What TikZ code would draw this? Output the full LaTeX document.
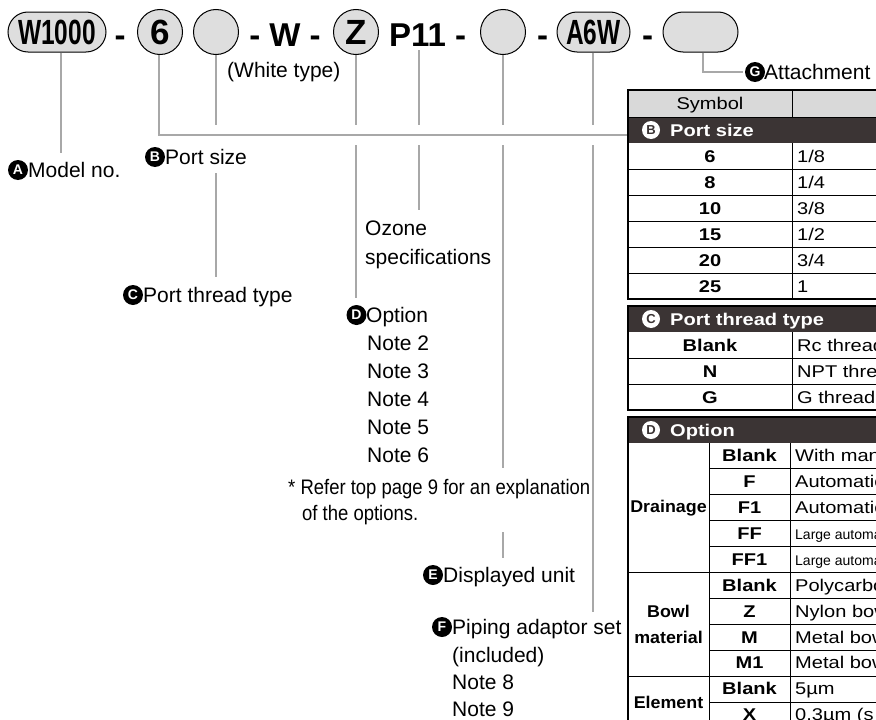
\documentclass[tikz,border=0pt]{standalone}
\usepackage{fontspec}
\setmainfont{Liberation Sans}
\newfontfamily\condfont[FakeStretch=0.7]{Liberation Sans}
\newfontfamily\tblfont[FakeStretch=1.18]{Liberation Sans}
\newfontfamily\catfont[FakeStretch=1.05]{Liberation Sans}
\newfontfamily\narrowfont[FakeStretch=0.88]{Liberation Sans}
\definecolor{connc}{HTML}{A8A8A8}
\definecolor{pillfill}{HTML}{DEDEDE}
\definecolor{hdr}{HTML}{3B3434}
\definecolor{symhdr}{HTML}{D9D9D9}
\begin{document}
\begin{tikzpicture}[x=1pt,y=-1pt,
  pill/.style={draw=black, line width=1pt, fill=pillfill, rounded corners=20pt, inner sep=0pt, minimum height=40pt},
  circ/.style={circle, draw=black, line width=1pt, fill=pillfill, minimum size=45pt, inner sep=0pt},
  topbig/.style={font=\bfseries\fontsize{33}{33}\selectfont, inner sep=0pt},
  lab/.style={font=\fontsize{21}{25}\selectfont, anchor=base west, inner sep=0pt},
  notelab/.style={font=\narrowfont\fontsize{21}{25}\selectfont, anchor=base west, inner sep=0pt},
  bc/.style={circle, fill=black, text=white, inner sep=0pt, minimum size=20pt, font=\bfseries\fontsize{14}{14}\selectfont},
  wc/.style={circle, fill=white, text=hdr, inner sep=0pt, minimum size=18pt, font=\bfseries\fontsize{13}{13}\selectfont},
  cn/.style={draw=connc, line width=2pt},
  tsym/.style={font=\tblfont\bfseries\fontsize{17}{19}\selectfont, anchor=base, inner sep=0pt},
  tdesc/.style={font=\tblfont\fontsize{17}{19}\selectfont, anchor=base west, inner sep=0pt},
  tsmall/.style={font=\fontsize{14}{16}\selectfont, anchor=base west, inner sep=0pt},
  tcat/.style={font=\catfont\bfseries\fontsize{17}{26}\selectfont, align=center, inner sep=0pt},
  thead/.style={font=\tblfont\bfseries\fontsize{17}{19}\selectfont, text=white, anchor=base west, inner sep=0pt},
  tline/.style={draw=black, line width=1pt},
  tborder/.style={draw=black, line width=2.5pt}
]
\useasboundingbox (0,0) rectangle (876,720);
\clip (0,0) rectangle (876,720);

% ---------- top row ----------
\node[pill, minimum width=98pt] (pA) at (57,32) {\condfont\bfseries\fontsize{35}{35}\selectfont W1000};
\node[topbig, anchor=base] (d1) at (120,46) {-};
\node[circ] (pB) at (160,32) {\bfseries\fontsize{35}{35}\selectfont 6};
\node[circ] (pC) at (216,32) {};
\node[topbig, anchor=base] (tW) at (285,46) {- W -};
\node[circ] (pD) at (356,32) {\bfseries\fontsize{35}{35}\selectfont Z};
\node[topbig, anchor=base west] (tP) at (389,46) {P11 -};
\node[circ] (pE) at (503,32) {};
\node[topbig, anchor=base] (d2) at (542.5,46) {-};
\node[pill, minimum width=73pt] (pF) at (593.5,32) {\condfont\bfseries\fontsize{35}{35}\selectfont A6W};
\node[topbig, anchor=base] (d3) at (647.5,46) {-};
\node[pill, minimum width=75pt] (pG) at (700.5,32) {};
\node[lab] (wt) at (227,77) {(White type)};

% ---------- labels ----------
\node[bc] (cA) at (18,170) {A};
\node[lab] (lA) at (28,177.5) {Model no.};
\node[bc] (cB) at (155,157) {B};
\node[lab] (lB) at (165,164.5) {Port size};
\node[bc] (cC) at (133,295) {C};
\node[lab] (lC) at (143,302.5) {Port thread type};
\node[lab] (oz1) at (365,235.5) {Ozone};
\node[lab] (oz2) at (365,264.5) {specifications};
\node[bc] (cD) at (356.5,315) {D};
\node[lab] (lD) at (366,322.5) {Option};
\node[lab] (n2) at (367,350.5) {Note 2};
\node[lab] (n3) at (367,378.5) {Note 3};
\node[lab] (n4) at (367,406.5) {Note 4};
\node[lab] (n5) at (367,434.5) {Note 5};
\node[lab] (n6) at (367,462.5) {Note 6};
\node[notelab] (rf1) at (288,494.5) {* Refer top page 9 for an explanation};
\node[notelab] (rf2) at (302,520.5) {of the options.};
\node[bc] (cE) at (433,575) {E};
\node[lab] (lE) at (443,582.5) {Displayed unit};
\node[bc] (cF) at (442,627) {F};
\node[lab] (lF) at (452,634.5) {Piping adaptor set};
\node[lab] (lF2) at (452,662.5) {(included)};
\node[lab] (n8) at (452,689.5) {Note 8};
\node[lab] (n9) at (452,716.5) {Note 9};
\node[bc] (cG) at (755,72) {G};
\node[lab] (lG) at (764,79.5) {Attachment};

% ---------- connectors ----------
\coordinate (eA) at (61,153);
\coordinate (tabB) at (628,135);
\coordinate (c1) at (216,125);
\coordinate (c2) at (216,173);
\coordinate (c3) at (216,277);
\coordinate (z1) at (356,125);
\coordinate (z2) at (356,145);
\coordinate (z3) at (356,298);
\coordinate (p0) at (419,50);
\coordinate (p1) at (419,125);
\coordinate (p2) at (419,145);
\coordinate (p3) at (419,210);
\coordinate (e1) at (503,125);
\coordinate (e2) at (503,145);
\coordinate (e3) at (503,468);
\coordinate (e4) at (503,532);
\coordinate (e5) at (503,558);
\coordinate (f1) at (593,125);
\coordinate (f2) at (593,145);
\coordinate (f3) at (593,612);

\draw[cn] ([xshift=4pt]pA.south) -- (eA);
\draw[cn] ([xshift=-1pt]pB.south) |- (tabB);
\draw[cn] (pC.south) -- (c1);
\draw[cn] (c2) -- (c3);
\draw[cn] (pD.south) -- (z1);
\draw[cn] (z2) -- (z3);
\draw[cn] (p0) -- (p1);
\draw[cn] (p2) -- (p3);
\draw[cn] (pE.south) -- (e1);
\draw[cn] (e2) -- (e3);
\draw[cn] (e4) -- (e5);
\draw[cn] ([xshift=-0.5pt]pF.south) -- (f1);
\draw[cn] (f2) -- (f3);
\draw[cn] ([xshift=2.5pt]pG.south) |- ([xshift=-2pt]cG.west);

% ---------- table block B ----------
\fill[symhdr] (628,90) rectangle (900,117);
\fill[hdr] (628,117) rectangle (900,143);
\foreach \yy in {169,195,221,247,273} \draw[tline] (628,\yy) -- (900,\yy);
\draw[tline] (628,117) -- (900,117);
\draw[tline] (792,90) -- (792,117);
\draw[tline] (792,143) -- (792,299);
\draw[tborder] (628,90) rectangle (900,299);
\node[font=\tblfont\fontsize{17}{19}\selectfont, anchor=base, inner sep=0pt] (hSym) at (710,109.5) {Symbol};
\node[wc] (hB) at (651,130) {B};
\node[thead] (hBt) at (670,136) {Port size};
\node[tsym] (b1) at (710,162) {6};   \node[tdesc] (b1d) at (797,162) {1/8};
\node[tsym] (b2) at (710,188) {8};   \node[tdesc] (b2d) at (797,188) {1/4};
\node[tsym] (b3) at (710,214) {10};  \node[tdesc] (b3d) at (797,214) {3/8};
\node[tsym] (b4) at (710,240) {15};  \node[tdesc] (b4d) at (797,240) {1/2};
\node[tsym] (b5) at (710,266) {20};  \node[tdesc] (b5d) at (797,266) {3/4};
\node[tsym] (b6) at (710,292) {25};  \node[tdesc] (b6d) at (797,292) {1};

% ---------- table block C ----------
\fill[hdr] (628,306) rectangle (900,332);
\foreach \yy in {358,384} \draw[tline] (628,\yy) -- (900,\yy);
\draw[tline] (792,332) -- (792,410);
\draw[tborder] (628,306) rectangle (900,410);
\node[wc] (hC) at (651,319) {C};
\node[thead] (hCt) at (670,325) {Port thread type};
\node[tsym] (cr1) at (710,351) {Blank}; \node[tdesc] (cr1d) at (797,351) {Rc thread};
\node[tsym] (cr2) at (710,377) {N};     \node[tdesc] (cr2d) at (797,377) {NPT thread};
\node[tsym] (cr3) at (710,403) {G};     \node[tdesc] (cr3d) at (797,403) {G thread};

% ---------- table block D ----------
\fill[hdr] (628,417) rectangle (900,443);
\foreach \yy in {468.9,494.8,520.7,546.6,598.4,624.3,650.2,702} \draw[tline] (709,\yy) -- (900,\yy);
\foreach \yy in {572.5,676.1} \draw[tline] (628,\yy) -- (900,\yy);
\draw[tline] (709,443) -- (709,740);
\draw[tline] (790,443) -- (790,740);
\draw[tborder] (628,417) rectangle (900,740);
\node[wc] (hD) at (651,430) {D};
\node[thead] (hDt) at (670,436) {Option};
\node[tcat] (catDr) at (668.5,507.8) {Drainage};
\node[tcat] (catBw) at (668.5,624.3) {Bowl\\material};
\node[tcat] (catEl) at (668.5,702) {Element};
\node[tsym] (o1) at (749.5,461.7) {Blank}; \node[tdesc] (o1d) at (795,461.7) {With manual};
\node[tsym] (o2) at (749.5,487.6) {F};     \node[tdesc] (o2d) at (795,487.6) {Automatic};
\node[tsym] (o3) at (749.5,513.5) {F1};    \node[tdesc] (o3d) at (795,513.5) {Automatic};
\node[tsym] (o4) at (749.5,539.4) {FF};    \node[tsmall] (o4d) at (795,539.4) {Large automatic};
\node[tsym] (o5) at (749.5,565.3) {FF1};   \node[tsmall] (o5d) at (795,565.3) {Large automatic};
\node[tsym] (o6) at (749.5,591.2) {Blank}; \node[tdesc] (o6d) at (795,591.2) {Polycarbonate};
\node[tsym] (o7) at (749.5,617.1) {Z};     \node[tdesc] (o7d) at (795,617.1) {Nylon bowl};
\node[tsym] (o8) at (749.5,643) {M};       \node[tdesc] (o8d) at (795,643) {Metal bowl};
\node[tsym] (o9) at (749.5,668.9) {M1};    \node[tdesc] (o9d) at (795,668.9) {Metal bowl};
\node[tsym] (o10) at (749.5,694.8) {Blank}; \node[tdesc] (o10d) at (795,694.8) {5µm};
\node[tsym] (o11) at (749.5,720.7) {X};    \node[tdesc] (o11d) at (795,720.7) {0.3µm (s};
\end{tikzpicture}
\end{document}
